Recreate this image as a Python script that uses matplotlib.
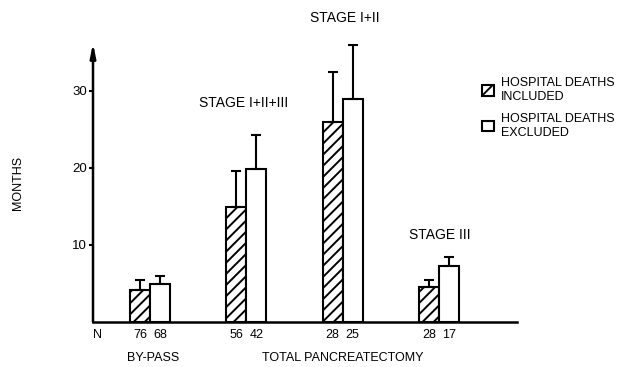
import matplotlib
matplotlib.use('Agg')
import matplotlib.pyplot as plt
from matplotlib.patches import Patch

# values (months)
groups = ['BY-PASS', 'STAGE I+II+III', 'STAGE I+II', 'STAGE III']
stageLabels = ['', 'STAGE I+II+III', 'STAGE I+II', 'STAGE III']
included = [4.2, 14.9, 26.0, 4.5]
includedErr = [1.3, 4.7, 6.5, 1.0]
excluded = [4.9, 19.8, 28.9, 7.3]
excludedErr = [1.1, 4.4, 7.1, 1.1]
nIncluded = [76, 56, 28, 28]
nExcluded = [68, 42, 25, 17]
yTicks = [10, 20, 30]

plt.rcParams['font.family'] = ['Liberation Sans', 'DejaVu Sans']
plt.rcParams['hatch.linewidth'] = 1.4
plt.rcParams['font.size'] = 9

fig = plt.figure(figsize=(6.19, 3.67), dpi=100)
ax = fig.add_axes([93/619, 1-322/367, (517-93)/619, (322-43)/367])

w = 0.207
xs = list(range(len(groups)))
xInc = [x - w/2 for x in xs]
xExc = [x + w/2 for x in xs]

ax.bar(xInc, included, w, color='white', edgecolor='black', hatch='///', linewidth=1.5)
ax.bar(xExc, excluded, w, color='white', edgecolor='black', linewidth=1.5)
ax.errorbar(xInc, included, yerr=[[0]*4, includedErr], fmt='none', ecolor='black',
            elinewidth=1.5, capsize=3.5, capthick=1.5)
ax.errorbar(xExc, excluded, yerr=[[0]*4, excludedErr], fmt='none', ecolor='black',
            elinewidth=1.5, capsize=3.5, capthick=1.5)

ax.set_xlim(-0.59, 3.81)
ax.set_ylim(0, 36.2)
for s in ['top', 'right', 'left']:
    ax.spines[s].set_visible(False)
ax.spines['bottom'].set_linewidth(1.8)
ax.annotate('', xy=(0, 1), xytext=(0, 0), xycoords='axes fraction',
            arrowprops=dict(arrowstyle='-|>,head_width=0.18,head_length=0.9',
                            color='black', lw=1.8, shrinkA=0, shrinkB=0))
ax.set_xticks([])
ax.set_yticks(yTicks)
ax.set_yticklabels([str(t) for t in yTicks], fontsize=9.5)
ax.tick_params(axis='y', direction='out', length=3, width=1.5, pad=1.5)

ax.text(-0.177, 0.5, 'MONTHS', rotation=90, transform=ax.transAxes, va='center', ha='center')

tr = ax.get_xaxis_transform()
ax.text(-0.585, -0.047, 'N', transform=tr, ha='left', va='center')
for i in xs:
    ax.text(xInc[i], -0.047, str(nIncluded[i]), transform=tr, ha='center', va='center')
    ax.text(xExc[i], -0.047, str(nExcluded[i]), transform=tr, ha='center', va='center')
ax.text(0.03, -0.13, groups[0], transform=tr, ha='center', va='center')
ax.text(2.0, -0.13, 'TOTAL PANCREATECTOMY', transform=tr, ha='center', va='center')

stageY = [0, 28.4, 39.4, 11.3]
stageX = [0, -0.03, 0.02, 0.01]
for i in xs[1:]:
    ax.text(i + stageX[i], stageY[i], stageLabels[i], ha='center', va='center', fontsize=10)

handles = [Patch(facecolor='white', edgecolor='black', hatch='///', linewidth=1.5),
           Patch(facecolor='white', edgecolor='black', linewidth=1.5)]
fig.legend(handles, ['HOSPITAL DEATHS\nINCLUDED', 'HOSPITAL DEATHS\nEXCLUDED'],
           loc='upper left', bbox_to_anchor=(476/619, 1-71/367), frameon=False,
           handlelength=0.9, handleheight=0.9, handletextpad=0.6, labelspacing=0.8,
           borderpad=0, fontsize=9)

fig.savefig('out.png', dpi=100)
